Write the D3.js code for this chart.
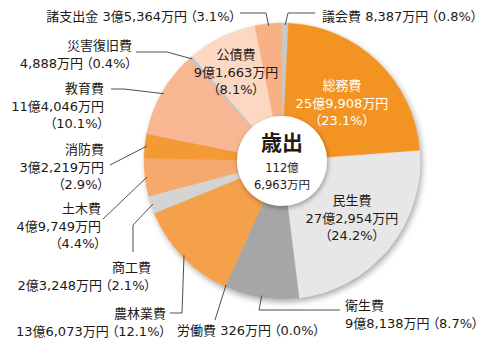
<!DOCTYPE html>
<html><head><meta charset="utf-8">
<script src="https://cdn.jsdelivr.net/npm/d3@7/dist/d3.min.js"></script>
<style>
html,body{margin:0;padding:0;background:#fff;}
svg{display:block;font-family:"DejaVu Sans","Noto Sans CJK JP",sans-serif;font-feature-settings:"palt";}
</style></head>
<body><svg id="c" width="497" height="344"></svg>
<script>
// ---- data ----
const categories = ["議会費","総務費","民生費","衛生費","労働費","農林業費","商工費","土木費","消防費","教育費","災害復旧費","公債費","諸支出金"];
const values = [8387,259908,272954,98138,326,136073,23248,49749,32219,114046,4888,91663,35364]; // 万円
const amountLabels = ["8,387万円","25億9,908万円","27億2,954万円","9億8,138万円","326万円","13億6,073万円","2億3,248万円","4億9,749万円","3億2,219万円","11億4,046万円","4,888万円","9億1,663万円","3億5,364万円"];
const percentLabels = ["0.8%","23.1%","24.2%","8.7%","0.0%","12.1%","2.1%","4.4%","2.9%","10.1%","0.4%","8.1%","3.1%"];
const colors = ["#c9c9c9","#f39422","#e7e7e7","#a6a6a6","#a6a6a6","#f5a04b","#d4d4d4","#f6a96c","#f39a35","#f8b792","#c4c4c4","#fcd8c2","#f7b184"];
const totalTitle = "歳出";
const totalLines = ["112億","6,963万円"];

// ---- layout ----
const cx = 282, cy = 161, R = 138, r0 = 45;
const fs = 13, lh = 17.5;
const labelLayout = {
  "議会費":   {x:322,y:16,a:"start",mode:0,elb:[[315,13],[288,13]]},
  "諸支出金": {x:236,y:16,a:"end",mode:0,elb:[[240,13],[266,13]]},
  "災害復旧費":{x:132,y:45,a:"end",mode:1,elb:[[136,52],[167,52]]},
  "教育費":   {x:104,y:88,a:"end",mode:2,elb:[[111,89],[124,89]]},
  "消防費":   {x:104,y:149,a:"end",mode:2,elb:[[110,165]]},
  "土木費":   {x:101,y:208,a:"end",mode:2,elb:[[103,219]]},
  "商工費":   {x:151,y:267,a:"end",mode:1,elb:[[133,252],[133,225]]},
  "農林業費": {x:166,y:313,a:"end",mode:1,elb:[[170,313],[182,313]]},
  "労働費":   {x:177,y:330,a:"start",mode:0,elb:[[215,320]]},
  "衛生費":   {x:345,y:305,a:"start",mode:1,elb:[[340,310],[259,310]]},
  "公債費":   {x:236,y:54,a:"middle",mode:2},
  "総務費":   {x:342,y:85,a:"middle",mode:2,fill:"#fff"},
  "民生費":   {x:352,y:200,a:"middle",mode:2}
};
const textColor = "#231815";

const svg = d3.select("#c");
const defs = svg.append("defs");
const f = defs.append("filter").attr("id","sh").attr("x","-20%").attr("y","-20%").attr("width","150%").attr("height","150%");
f.append("feDropShadow").attr("dx",2).attr("dy",3).attr("stdDeviation",3).attr("flood-color","#000").attr("flood-opacity",0.35);
const f2 = defs.append("filter").attr("id","sh2").attr("x","-30%").attr("y","-30%").attr("width","160%").attr("height","160%");
f2.append("feDropShadow").attr("dx",1).attr("dy",2).attr("stdDeviation",2.5).attr("flood-color","#000").attr("flood-opacity",0.35);

const data = categories.map((c,i)=>({name:c,value:values[i],amount:amountLabels[i],pct:percentLabels[i],color:colors[i]}));
const pie = d3.pie().value(d=>d.value).sort(null).startAngle(0).endAngle(2*Math.PI);
const arcs = pie(data);
const arc = d3.arc().innerRadius(0).outerRadius(R);

const g = svg.append("g").attr("transform",`translate(${cx},${cy})`);
g.append("circle").attr("r",R).attr("fill","#ddd").attr("filter","url(#sh)");
g.selectAll("path.s").data(arcs).join("path").attr("class","s")
  .attr("d",arc).attr("fill",d=>d.data.color).attr("stroke",d=>d.data.color).attr("stroke-width",0.5);
g.append("circle").attr("r",r0).attr("fill","#fff").attr("filter","url(#sh2)");

// center texts
g.append("text").attr("x",0).attr("y",-18).attr("text-anchor","middle").attr("dominant-baseline","central")
  .attr("font-size",21).attr("font-weight","bold").attr("fill",textColor).text(totalTitle);
totalLines.forEach((t,i)=>g.append("text").attr("x",0).attr("y",7+i*17).attr("text-anchor","middle")
  .attr("dominant-baseline","central").attr("font-size",11.5).attr("fill",textColor).text(t));

// labels: each line is a list of [text, dx] segments
function lineSet(d, mode){
  const p = ["（"+d.pct+"）", 3];
  if(mode===0) return [[[d.name+" "+d.amount,0], p]];
  if(mode===1) return [[[d.name,0]], [[d.amount,0], p]];
  return [[[d.name,0]], [[d.amount,0]], [["（"+d.pct+"）",0]]];
}
arcs.forEach(a=>{
  const d = a.data, L = labelLayout[d.name];
  const lines = lineSet(d, L.mode);
  lines.forEach((segs,i)=>{
    const t = svg.append("text").attr("font-size",fs).attr("fill",L.fill||textColor)
      .attr("text-anchor",L.a).attr("x",L.x).attr("y",L.y+i*lh).attr("dominant-baseline","central");
    segs.forEach(([s,dx])=>t.append("tspan").attr("dx",dx).text(s));
  });
  if(L.elb){
    const mid = (a.startAngle+a.endAngle)/2;
    const pt = d3.pointRadial(mid, R-2);
    const pts = L.elb.concat([[cx+pt[0], cy+pt[1]]]);
    svg.append("path").attr("d",d3.line()(pts)).attr("fill","none").attr("stroke","#3e3a39").attr("stroke-width",0.9);
  }
});
</script></body></html>
